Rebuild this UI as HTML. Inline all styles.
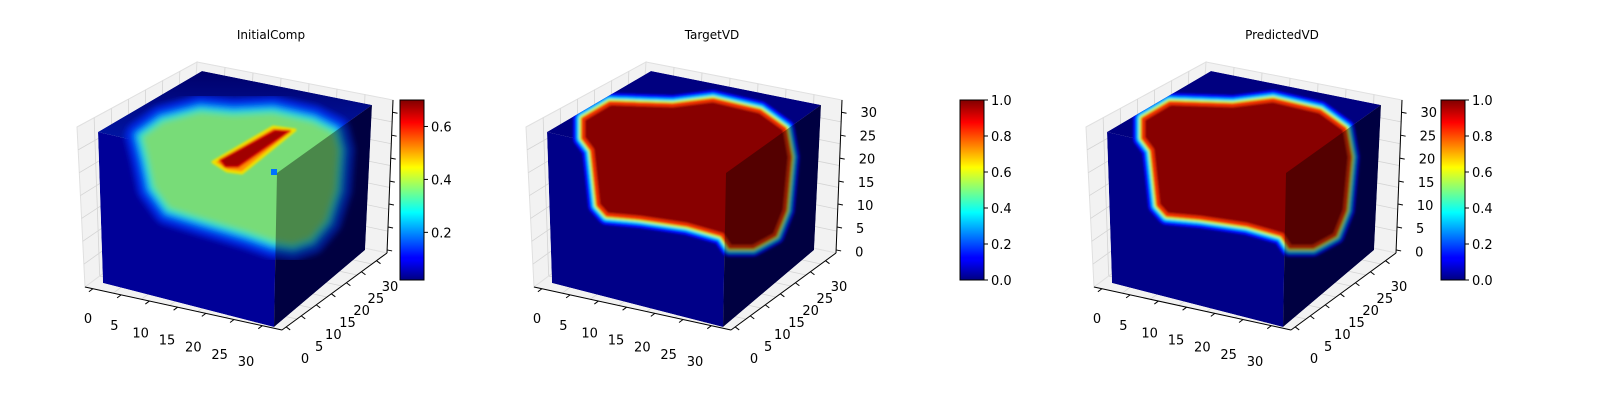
<!DOCTYPE html>
<html><head><meta charset="utf-8">
<style>
html,body{margin:0;padding:0;background:#fff;}
svg{display:block;font-family:"DejaVu Sans","Liberation Sans",sans-serif;}
</style></head>
<body>
<svg id="fig" width="1600" height="400" viewBox="0 0 1600 400" xmlns="http://www.w3.org/2000/svg">
<defs>
<linearGradient id="jet" x1="0" y1="1" x2="0" y2="0">
<stop offset="0" stop-color="#000080"/><stop offset="0.11" stop-color="#0000ff"/><stop offset="0.125" stop-color="#0000ff"/>
<stop offset="0.375" stop-color="#00ffff"/><stop offset="0.625" stop-color="#ffff00"/><stop offset="0.875" stop-color="#ff0000"/>
<stop offset="1" stop-color="#800000"/></linearGradient>
<linearGradient id="topg" x1="0" y1="0" x2="0" y2="1"><stop offset="0" stop-color="#00006a"/><stop offset="1" stop-color="#0020c0"/></linearGradient>
<filter id="blur2"><feGaussianBlur stdDeviation="3"/></filter>
<filter id="blur1"><feGaussianBlur stdDeviation="1"/></filter>
</defs>
</svg>
<script>
const NS="http://www.w3.org/2000/svg";
const svg=document.getElementById('fig');
// ---- data arrays ----
const panelTitles=["InitialComp","TargetVD","PredictedVD"];
const axisTicks=[0,5,10,15,20,25,30];
const cbTicks1=[0.2,0.4,0.6];
const cbTicks23=[0.0,0.2,0.4,0.6,0.8,1.0];
const cbRange1=[0.02,0.70];
const cbRange23=[0,1];

function el(tag,attrs,parent){const e=document.createElementNS(NS,tag);for(const k in attrs)e.setAttribute(k,attrs[k]);(parent||svg).appendChild(e);return e;}
function pts(arr,dx){return arr.map(p=>(p[0]+dx)+","+p[1]).join(" ");}
function lerp(a,b,t){return [a[0]+(b[0]-a[0])*t,a[1]+(b[1]-a[1])*t];}

const A=[98,132],B=[202,71],C=[372,105],D=[277,173],E=[103,283],F=[274,327],G=[365,250];
const LW=[[77,127],[197,62],[188,210],[85,287]];
const RW=[[197,62],[393,100],[387,253],[188,210]];
const FL=[[85,287],[188,210],[387,253],[282,330]];
const panelDx=[0,449,1009];
const titleX=[271,712,1282];
const cbX=[400,960,1441];

function quadGrid(g,q,dx){
  el('polygon',{points:pts(q,dx),fill:'#f2f2f2',stroke:'#e0e0e0','stroke-width':1},g);
  for(let i=1;i<7;i++){const t=i/7;
    const p=lerp(q[0],q[1],t),r=lerp(q[3],q[2],t);
    el('line',{x1:p[0]+dx,y1:p[1],x2:r[0]+dx,y2:r[1],stroke:'#d4d4d4','stroke-width':0.8},g);
    const s=lerp(q[0],q[3],t),u=lerp(q[1],q[2],t);
    el('line',{x1:s[0]+dx,y1:s[1],x2:u[0]+dx,y2:u[1],stroke:'#d4d4d4','stroke-width':0.8},g);}
}

const redOutline=[[583,119],[610,103],[673,105],[713,100],[760,111],[785,129],[790,157],[785,210],[775,235],[753,247],[730,247],[722,235],[687,225],[640,218],[607,215],[598,205],[592,150],[583,138]];
const greenOutline=[[140,136],[162,120],[200,110],[233,113],[273,111],[313,120],[335,131],[340,150],[337,190],[327,221],[311,240],[293,246],[273,243],[247,234],[200,220],[168,210],[152,188],[146,160]];
const barOuter=[[213,162],[273,127],[295,130],[242,173],[227,171]];
const barInner=[[220,160],[275,130],[290,131],[238,167],[225,167]];

panelTitles.forEach((title,pi)=>{
  const dx=panelDx[pi];
  const g=el('g',{});
  
  
  const panes=el('g',{},g);
  
  
  quadGrid(panes,LW,dx);quadGrid(panes,RW,dx);quadGrid(panes,FL,dx);
  const cid='clip'+pi;
  const cp=el('clipPath',{id:cid},g);
  el('polygon',{points:pts([A,B,C,G,F,E],dx)},cp);
  const cube=el('g',{'clip-path':'url(#'+cid+')'},g);
  
  
  el('polygon',{points:pts([A,D,F,E],dx),fill:pi==0?'#000098':'#000088'},cube);
  el('polygon',{points:pts([A,B,C,D],dx),fill:pi==0?'url(#topg)':'#000080'},cube);
  el('polygon',{points:pts([D,C,G,F],dx),fill:'#00006a'},cube);
  if(pi==0){
    const gg=el('g',{filter:'url(#blur2)'},cube);
    const go=pts(greenOutline,0);
    el('polygon',{points:go,fill:'none',stroke:'#0028e0','stroke-width':30,'stroke-linejoin':'round'},gg);
    el('polygon',{points:go,fill:'none',stroke:'#0080ff','stroke-width':14,'stroke-linejoin':'round'},gg);
    el('polygon',{points:go,fill:'#78dc78',stroke:'#30e0c0','stroke-width':5,'stroke-linejoin':'round'},gg);
    const bar=el('g',{filter:'url(#blur1)'},cube);
    
    
    el('polygon',{points:pts(barOuter,0),fill:'#ff9000',stroke:'#f0e000','stroke-width':3,'stroke-linejoin':'round'},bar);
    el('polygon',{points:pts(barInner,0),fill:'#a00000',stroke:'#e00000','stroke-width':2,'stroke-linejoin':'round'},bar);
    el('rect',{x:271,y:169,width:6,height:6,fill:'#0070ff'},cube);
  } else {
    const rg=el('g',{transform:'translate('+(dx-449)+',0)',filter:'url(#blur1)'},cube);
    
    
    const ro=pts(redOutline,0);
    el('polygon',{points:ro,fill:'none',stroke:'#0010ff','stroke-width':20,'stroke-linejoin':'round'},rg);
    el('polygon',{points:ro,fill:'none',stroke:'#00c8ff','stroke-width':13,'stroke-linejoin':'round'},rg);
    el('polygon',{points:ro,fill:'none',stroke:'#c0ff40','stroke-width':8,'stroke-linejoin':'round'},rg);
    el('polygon',{points:ro,fill:'#880000',stroke:'#f03000','stroke-width':4,'stroke-linejoin':'round'},rg);
  }
  el('polygon',{points:pts([D,C,G,F],dx),fill:'#000000','fill-opacity':0.38},cube);
  const ax=el('g',{},g);
  
  
  const xs=FL[0],xe=FL[3],ys=FL[3],ye=FL[2],zs=RW[2],ze=RW[1];
  el('line',{x1:xs[0]+dx,y1:xs[1],x2:xe[0]+dx,y2:xe[1],stroke:'#000','stroke-width':1},ax);
  el('line',{x1:ys[0]+dx,y1:ys[1],x2:ye[0]+dx,y2:ye[1],stroke:'#000','stroke-width':1},ax);
  el('line',{x1:zs[0]+dx,y1:zs[1],x2:ze[0]+dx,y2:ze[1],stroke:'#000','stroke-width':1},ax);
  const fx=v=>0.04+v/30*0.86;
  const xL0=[88,318],xL30=[246,361],yL0=[305,358],yL30=[390,286];
  axisTicks.forEach(v=>{
    const p=lerp(xs,xe,fx(v));
    el('line',{x1:p[0]+dx,y1:p[1],x2:p[0]+dx-4,y2:p[1]+3,stroke:'#000'},ax);
    const lp=lerp(xL0,xL30,v/30);
    const t=el('text',{x:lp[0]+dx,y:lp[1]+5,'font-size':13,'text-anchor':'middle',fill:'#000'},ax);
    t.textContent=v;
    
    
    const q=lerp(ys,ye,fx(v));
    el('line',{x1:q[0]+dx,y1:q[1],x2:q[0]+dx+4,y2:q[1]+3,stroke:'#000'},ax);
    const lq=lerp(yL0,yL30,v/30);
    const t2=el('text',{x:lq[0]+dx,y:lq[1]+5,'font-size':13,'text-anchor':'middle',fill:'#000'},ax);
    t2.textContent=v;
    
    
    const r=lerp(zs,ze,0.02+v/30*0.9);
    el('line',{x1:r[0]+dx,y1:r[1],x2:r[0]+dx+5,y2:r[1]+1,stroke:'#000'},ax);
    if(pi>0){
      const t3=el('text',{x:r[0]+dx+19,y:r[1]+5+(30-v)*0.05,'font-size':13,'text-anchor':'start',fill:'#000'},ax);
      t3.textContent=v;
      
      
    }
  });
  const tt=el('text',{x:titleX[pi],y:39,'font-size':12,'text-anchor':'middle',fill:'#000'},g);
  tt.textContent=title;
  
  
  const cb=el('g',{},g);
  
  
  const cx=cbX[pi],cy0=100,cy1=280;
  el('rect',{x:cx,y:cy0,width:24,height:cy1-cy0,fill:'url(#jet)',stroke:'#000','stroke-width':1},cb);
  const rng=pi==0?cbRange1:cbRange23, tk=pi==0?cbTicks1:cbTicks23;
  const cyv=v=>cy1-(v-rng[0])/(rng[1]-rng[0])*(cy1-cy0);
  tk.forEach(v=>{
    const y=cyv(v);
    el('line',{x1:cx+24,y1:y,x2:cx+28,y2:y,stroke:'#000'},cb);
    const t=el('text',{x:cx+31,y:y+5,'font-size':13,fill:'#000'},cb);
    t.textContent=v.toFixed(1);
    
    
  });
});
</script>
</body></html>
